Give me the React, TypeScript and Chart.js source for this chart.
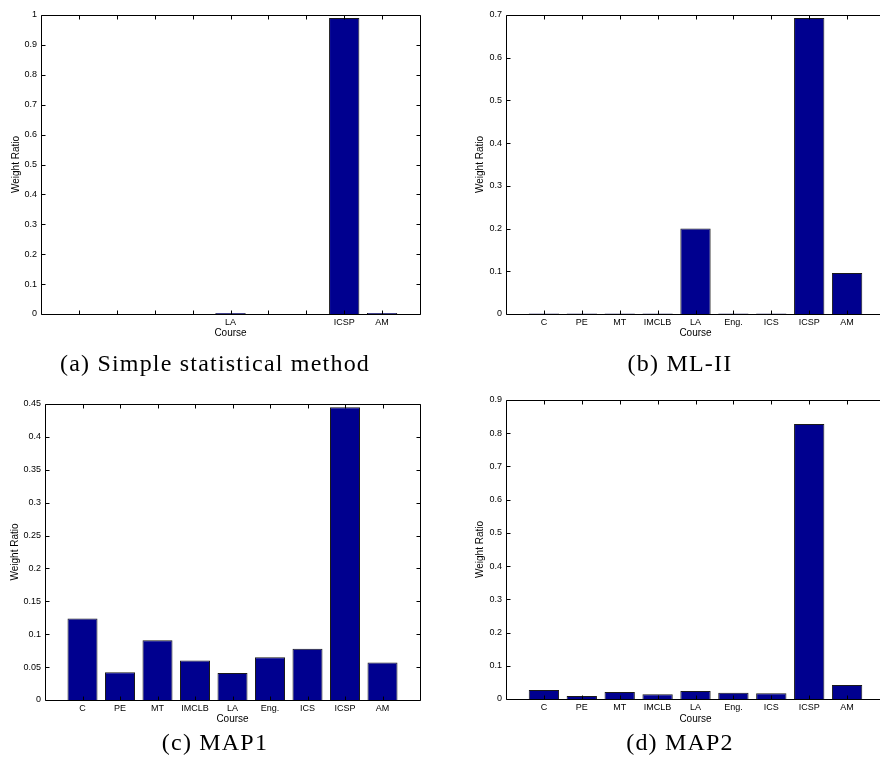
import React, { useEffect, useRef } from 'react';
import { Chart, registerables } from 'chart.js';

Chart.register(...registerables);

// ---- data ----
const courses = ['C', 'PE', 'MT', 'IMCLB', 'LA', 'Eng.', 'ICS', 'ICSP', 'AM'];
const coursesShownSimple = ['', '', '', '', 'LA', '', '', 'ICSP', 'AM'];
const simpleValues = [0, 0, 0, 0, 0.003, 0, 0, 0.99, 0.003];
const ml2Values = [0.001, 0.001, 0.001, 0.001, 0.2, 0.001, 0.001, 0.693, 0.096];
const map1Values = [0.124, 0.042, 0.091, 0.06, 0.041, 0.065, 0.078, 0.445, 0.057];
const map2Values = [0.027, 0.009, 0.021, 0.014, 0.024, 0.019, 0.017, 0.828, 0.042];
const yMaxSimple = 1;
const yMaxMl2 = 0.7;
const yMaxMap1 = 0.45;
const yMaxMap2 = 0.9;
const yStepSimple = 0.1;
const yStepMl2 = 0.1;
const yStepMap1 = 0.05;
const yStepMap2 = 0.1;
const captions = ['(a) Simple statistical method', '(b) ML-II', '(c) MAP1', '(d) MAP2'];
const xTitle = 'Course';
const yTitle = 'Weight Ratio';

const BAR_COLOR = '#00008F';
const FONT = "'Liberation Sans', Arial, Helvetica, sans-serif";

type Panel = {
  left: number; top: number; width: number; height: number;
  pad: { top: number; right: number; left: number; bottom: number };
  yWidth: number; xHeight: number; yTitlePad: number; xTitlePad: number;
  values: number[]; labels: string[]; yMax: number; yStep: number;
  caption: string; capX: number; capY: number;
};

const panels: Panel[] = [
  {
    left: 0, top: 0, width: 440, height: 380,
    pad: { top: 15, right: 20, left: 0, bottom: 0 },
    yWidth: 41, xHeight: 66, yTitlePad: 10, xTitlePad: 40.7,
    values: simpleValues, labels: coursesShownSimple, yMax: yMaxSimple, yStep: yStepSimple,
    caption: captions[0], capX: 215, capY: 362.5,
  },
  {
    left: 440, top: 0, width: 460, height: 380,
    pad: { top: 15, right: 15, left: 0, bottom: 0 },
    yWidth: 66, xHeight: 66, yTitlePad: 34, xTitlePad: 40.7,
    values: ml2Values, labels: courses, yMax: yMaxMl2, yStep: yStepMl2,
    caption: captions[1], capX: 680, capY: 362.5,
  },
  {
    left: 0, top: 380, width: 440, height: 380,
    pad: { top: 24, right: 20, left: 0, bottom: 0 },
    yWidth: 45, xHeight: 60, yTitlePad: 9, xTitlePad: 35,
    values: map1Values, labels: courses, yMax: yMaxMap1, yStep: yStepMap1,
    caption: captions[2], capX: 215, capY: 742,
  },
  {
    left: 440, top: 380, width: 460, height: 380,
    pad: { top: 20, right: 15, left: 0, bottom: 0 },
    yWidth: 66, xHeight: 61, yTitlePad: 34, xTitlePad: 35,
    values: map2Values, labels: courses, yMax: yMaxMap2, yStep: yStepMap2,
    caption: captions[3], capX: 680, capY: 742,
  },
];

const framePlugin = {
  id: 'matlabFrame',
  afterDatasetsDraw(chart: any) {
    const { ctx, chartArea } = chart;
    const { left, right, top, bottom } = chartArea;
    const x = chart.scales.x;
    const y = chart.scales.y;
    const L = Math.round(left) + 0.5;
    const R = Math.round(right) + 0.5;
    const T = Math.round(top) + 0.5;
    const B = Math.round(bottom) + 0.5;
    const tl = 4;
    ctx.save();
    ctx.strokeStyle = '#000';
    ctx.lineWidth = 1;
    ctx.beginPath();
    ctx.moveTo(L, T); ctx.lineTo(R, T); ctx.lineTo(R, B); ctx.lineTo(L, B); ctx.closePath();
    y.ticks.forEach((t: any) => {
      const py = Math.round(y.getPixelForValue(t.value)) + 0.5;
      ctx.moveTo(L, py); ctx.lineTo(L + tl, py);
      ctx.moveTo(R, py); ctx.lineTo(R - tl, py);
    });
    const n = chart.data.datasets[0].data.length;
    for (let i = 1; i <= n; i++) {
      const px = Math.round(x.getPixelForValue(i)) + 0.5;
      ctx.moveTo(px, B); ctx.lineTo(px, B - tl);
      ctx.moveTo(px, T); ctx.lineTo(px, T + tl);
    }
    ctx.stroke();
    ctx.restore();
  },
};

function fmt(v: number) {
  return String(+v.toFixed(3));
}

function BarPanel({ p }: { p: Panel }) {
  const ref = useRef<HTMLCanvasElement | null>(null);
  useEffect(() => {
    if (!ref.current) return;
    const chart = new Chart(ref.current, {
      type: 'bar',
      data: {
        datasets: [
          {
            data: p.values.map((v, i) => ({ x: i + 1, y: v })),
            backgroundColor: BAR_COLOR,
            borderColor: '#1a1a1a',
            borderWidth: 1,
            barPercentage: 0.8,
            categoryPercentage: 1,
          },
        ],
      },
      options: {
        responsive: false,
        animation: false,
        devicePixelRatio: 1,
        layout: { padding: p.pad },
        plugins: {
          legend: { display: false },
          tooltip: { enabled: false },
          title: { display: false },
        },
        scales: {
          x: {
            type: 'linear',
            min: 0,
            max: p.labels.length + 1,
            offset: false,
            grid: { display: false, drawTicks: false, tickLength: 0 },
            border: { display: false },
            ticks: {
              stepSize: 1,
              autoSkip: false,
              maxRotation: 0,
              minRotation: 0,
              padding: 3,
              color: '#000',
              font: { family: FONT, size: 9 },
              callback: (v: any) => {
                const idx = Number(v) - 1;
                return idx >= 0 && idx < p.labels.length ? p.labels[idx] : '';
              },
            },
            title: {
              display: true,
              text: xTitle,
              color: '#000',
              font: { family: FONT, size: 10 },
              padding: { top: 0, bottom: p.xTitlePad },
            },
            afterFit: (s: any) => { s.height = p.xHeight; },
          },
          y: {
            type: 'linear',
            min: 0,
            max: p.yMax,
            grid: { display: false, drawTicks: false, tickLength: 0 },
            border: { display: false },
            ticks: {
              stepSize: p.yStep,
              padding: 4,
              color: '#000',
              font: { family: FONT, size: 9 },
              callback: (v: any) => fmt(Number(v)),
            },
            title: {
              display: true,
              text: yTitle,
              color: '#000',
              font: { family: FONT, size: 10 },
              padding: { top: p.yTitlePad, bottom: 0 },
            },
            afterFit: (s: any) => { s.width = p.yWidth; },
          },
        },
      },
      plugins: [framePlugin],
    } as any);
    return () => chart.destroy();
  }, [p]);
  return (
    <div style={{ position: 'absolute', left: p.left, top: p.top, width: p.width, height: p.height }}>
      <canvas ref={ref} width={p.width} height={p.height} style={{ width: p.width, height: p.height, display: 'block' }} />
    </div>
  );
}

export default function App() {
  return (
    <div style={{ position: 'fixed', left: 0, top: 0, width: 880, height: 760, overflow: 'hidden', background: '#fff' }}>
      {panels.map((p, i) => (
        <BarPanel key={i} p={p} />
      ))}
      {panels.map((p, i) => (
        <div
          key={'c' + i}
          style={{
            position: 'absolute',
            left: p.capX - 220,
            width: 440,
            top: p.capY - 13,
            height: 26,
            lineHeight: '26px',
            textAlign: 'center',
            fontFamily: "'Liberation Serif', 'Times New Roman', serif",
            fontSize: 24,
            letterSpacing: '1.2px',
            color: '#000',
            whiteSpace: 'nowrap',
          }}
        >
          {p.caption}
        </div>
      ))}
    </div>
  );
}
